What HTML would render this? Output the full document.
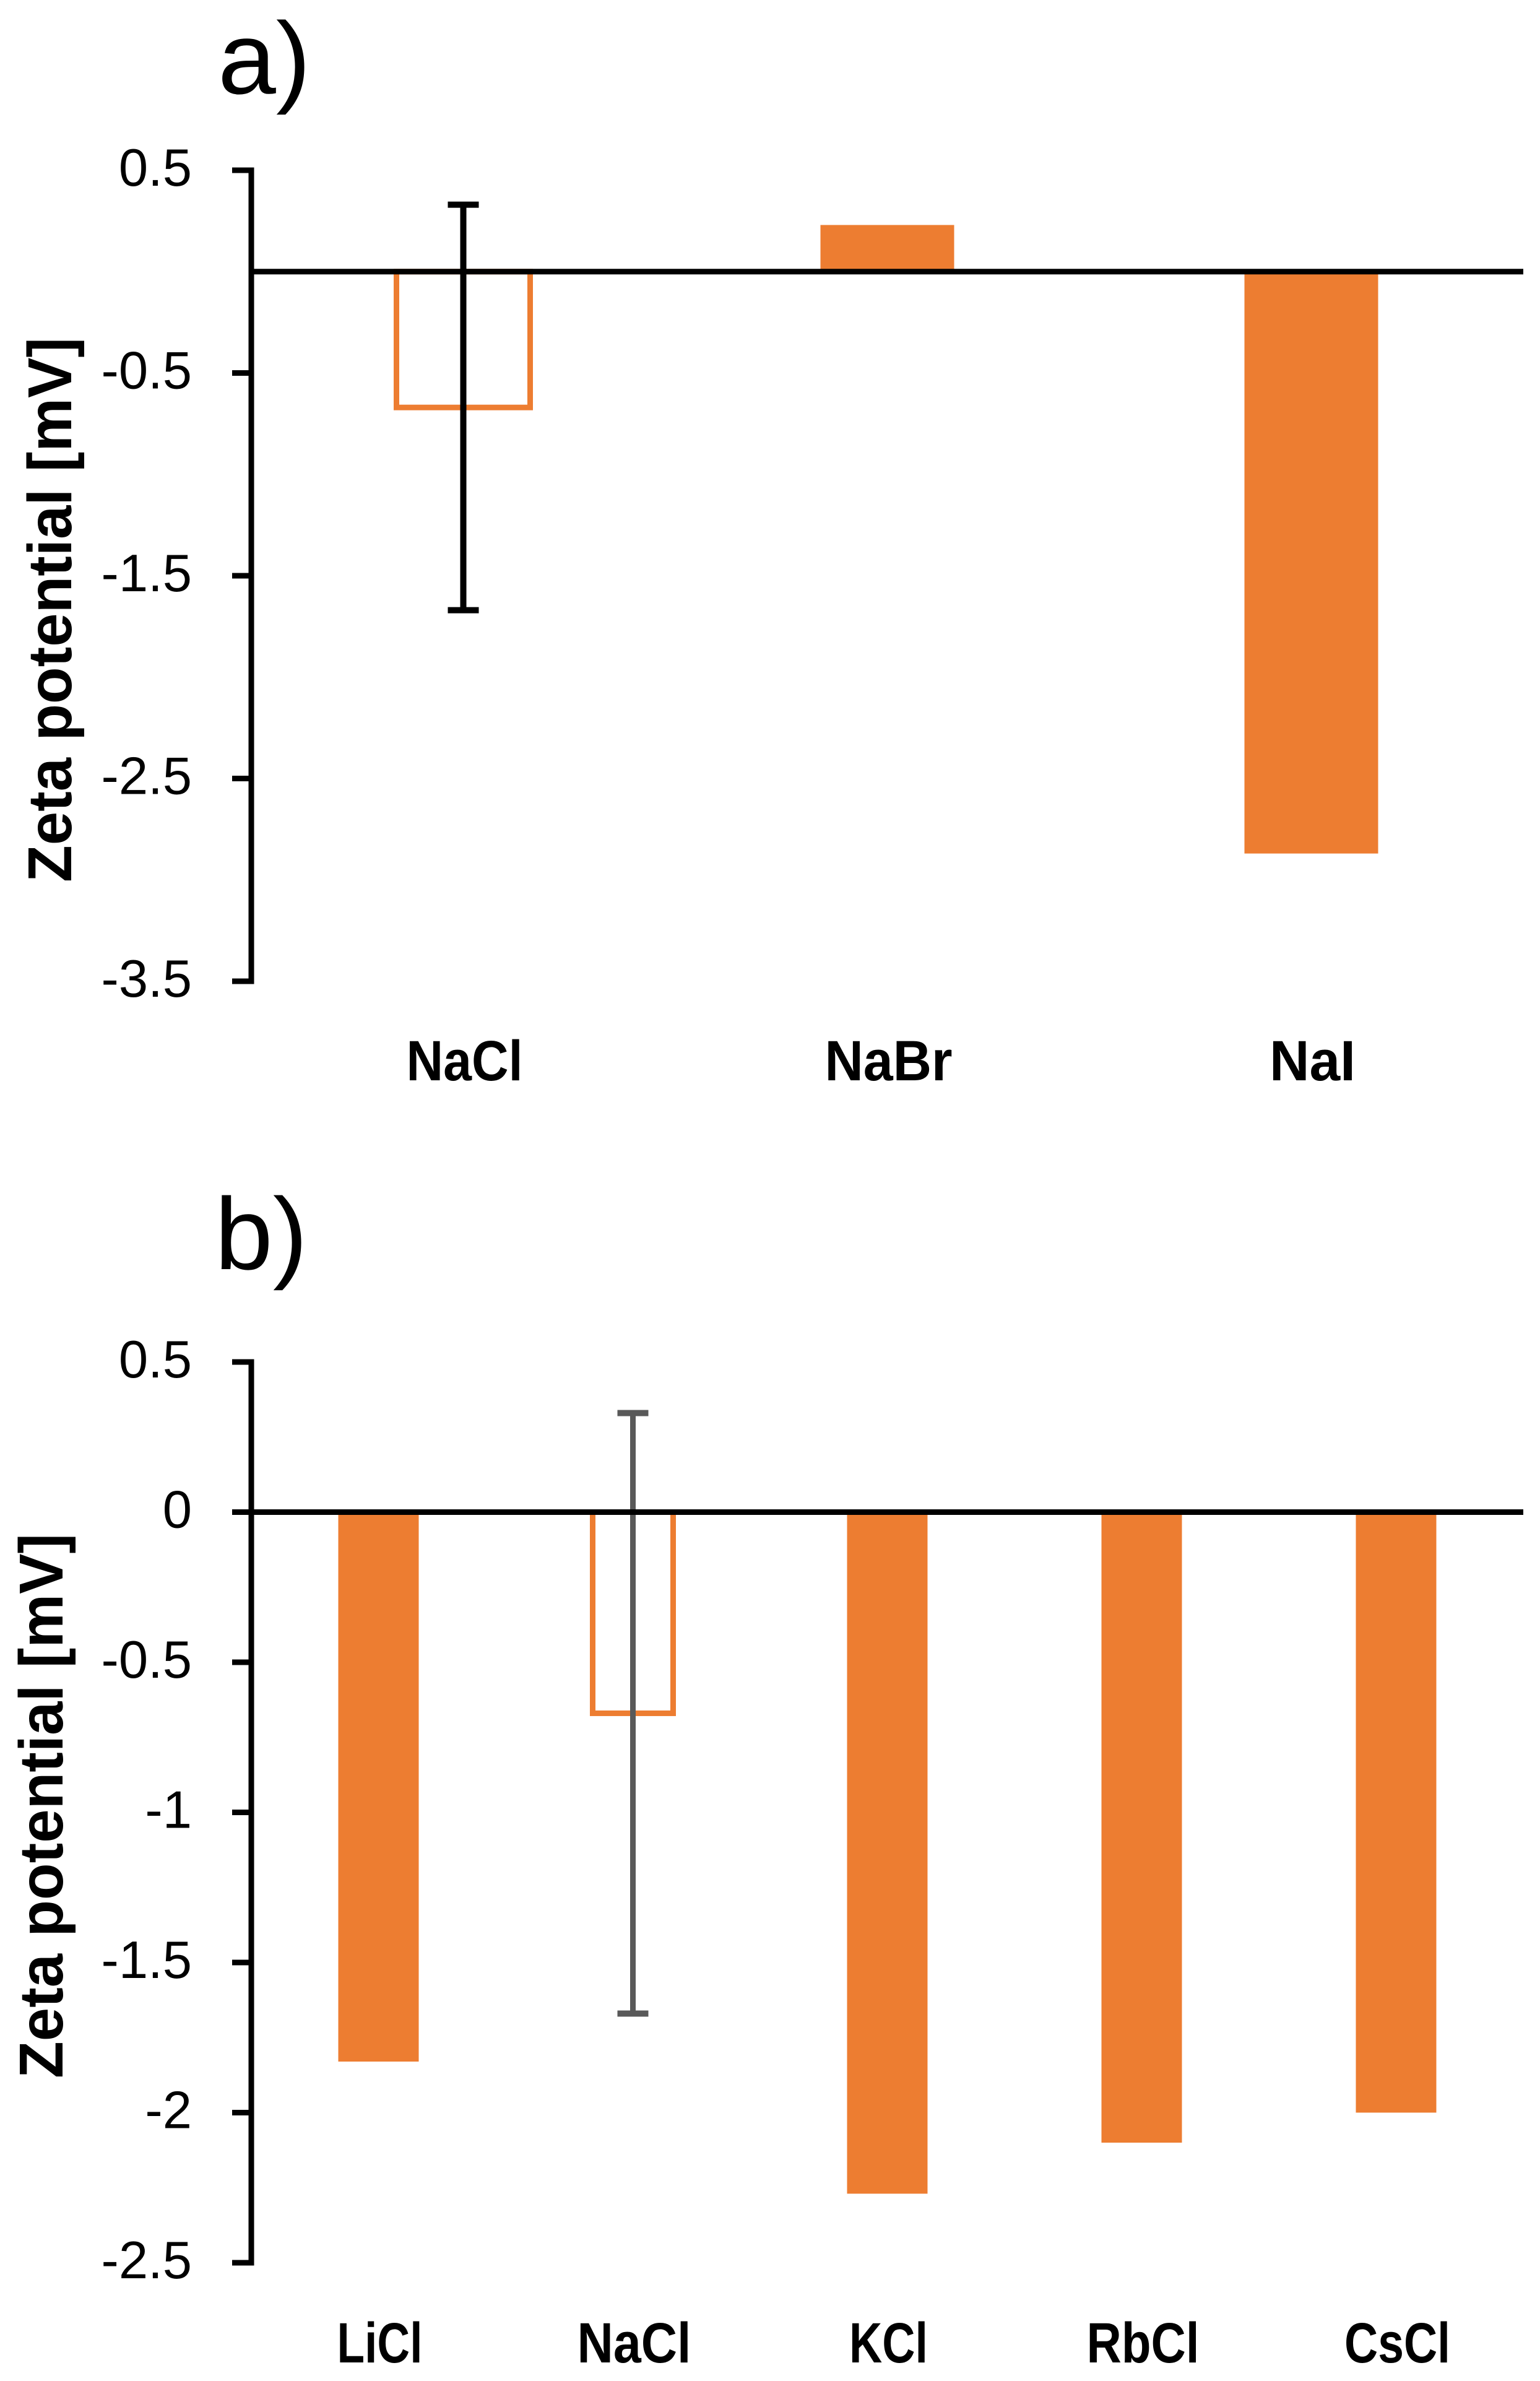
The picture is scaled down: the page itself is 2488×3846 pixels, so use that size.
<!DOCTYPE html>
<html lang="en">
<head>
<meta charset="utf-8">
<title>Zeta potential bar charts</title>
<style>
  html, body { margin: 0; padding: 0; background: #ffffff; }
  svg { display: block; }
  text { font-family: "Liberation Sans", sans-serif; fill: #000000; }
  .tick-label { font-size: 85px; text-anchor: end; }
  .cat-label { font-size: 92px; font-weight: 700; text-anchor: middle; }
  .axis-title { font-size: 100px; font-weight: 700; }
  .panel-label { font-size: 165px; }
</style>
</head>
<body>
<svg id="figure" xmlns="http://www.w3.org/2000/svg" width="2488" height="3846" viewBox="0 0 2488 3846">
  <rect x="0" y="0" width="2488" height="3846" fill="#ffffff"/>
  <g id="panel-a">
    <text class="panel-label" x="352" y="151" textLength="150" lengthAdjust="spacingAndGlyphs">a)</text>
    <text class="axis-title" transform="translate(115,1425) rotate(-90)" textLength="880" lengthAdjust="spacingAndGlyphs">Zeta potential [mV]</text>
  </g>
  <g id="panel-b">
    <text class="panel-label" x="347" y="2050" textLength="150" lengthAdjust="spacingAndGlyphs">b)</text>
    <text class="axis-title" transform="translate(101,3357) rotate(-90)" textLength="880" lengthAdjust="spacingAndGlyphs">Zeta potential [mV]</text>
  </g>
</svg>
<script>
// Panel a data
const categoriesA = ["NaCl", "NaBr", "NaI"];
const valuesA = [-0.67, 0.23, -2.87];
const errorsA = [1.0, null, null];
const tickValuesA = [0.5, -0.5, -1.5, -2.5, -3.5];
const tickLabelsA = ["0.5", "-0.5", "-1.5", "-2.5", "-3.5"];

// Panel b data
const categoriesB = ["LiCl", "NaCl", "KCl", "RbCl", "CsCl"];
const valuesB = [-1.83, -0.67, -2.27, -2.1, -2.0];
const errorsB = [null, 1.0, null, null, null];
const tickValuesB = [0.5, 0, -0.5, -1, -1.5, -2, -2.5];
const tickLabelsB = ["0.5", "0", "-0.5", "-1", "-1.5", "-2", "-2.5"];

const SVG_NS = "http://www.w3.org/2000/svg";
const ORANGE = "#ED7D31";

function mk(tag, parent, attrs) {
  const el = document.createElementNS(SVG_NS, tag);
  for (const k in attrs) el.setAttribute(k, attrs[k]);
  parent.appendChild(el);
  return el;
}

function drawPanel(cfg) {
  const g = document.getElementById(cfg.id);
  const yScale = v => cfg.yTop + (cfg.domainMax - v) * (cfg.yBottom - cfg.yTop) / (cfg.domainMax - cfg.domainMin);
  const step = (cfg.xRight - cfg.xLeft) / cfg.categories.length;
  const xCenter = i => cfg.xLeft + step * (i + 0.5);
  const zeroY = yScale(0);

  // bars
  cfg.values.forEach((v, i) => {
    const top = Math.min(yScale(v), zeroY);
    const h = Math.abs(yScale(v) - zeroY);
    const hollow = cfg.errors[i] !== null;
    const bar = mk("rect", g, {
      x: xCenter(i) - cfg.barWidth / 2,
      y: top,
      width: cfg.barWidth,
      height: h,
      fill: hollow ? "none" : ORANGE,
      stroke: hollow ? ORANGE : "none",
      "stroke-width": hollow ? 9 : 0
    });
    
    
  });

  // error bars
  cfg.errors.forEach((e, i) => {
    if (e === null) return;
    const hi = yScale(cfg.values[i] + e);
    const lo = yScale(cfg.values[i] - e);
    const cx = xCenter(i);
    const eg = mk("g", g, { stroke: cfg.errorColor, fill: "none" });
    
    
    mk("line", eg, { x1: cx, x2: cx, y1: hi, y2: lo, "stroke-width": cfg.errorStroke });
    mk("line", eg, { x1: cx - cfg.capHalf, x2: cx + cfg.capHalf, y1: hi, y2: hi, "stroke-width": 10 });
    mk("line", eg, { x1: cx - cfg.capHalf, x2: cx + cfg.capHalf, y1: lo, y2: lo, "stroke-width": 10 });
  });

  // y axis line
  const axis = mk("line", g, {
    x1: cfg.xLeft, x2: cfg.xLeft,
    y1: cfg.yTop - 4.5, y2: cfg.yBottom + 4.5,
    stroke: "#000", "stroke-width": 9
  });
  
  

  // ticks and tick labels
  cfg.tickValues.forEach((t, i) => {
    const y = yScale(t);
    const tick = mk("line", g, {
      x1: cfg.xLeft - 31, x2: cfg.xLeft,
      y1: y, y2: y,
      stroke: "#000", "stroke-width": 9
    });
    
    
    const label = mk("text", g, { class: "tick-label", x: 310, y: y + 25 });
    label.textContent = cfg.tickLabels[i];
    
    
  });

  // zero baseline
  const base = mk("line", g, {
    x1: cfg.xLeft, x2: cfg.xRight,
    y1: zeroY, y2: zeroY,
    stroke: "#000", "stroke-width": 9
  });
  
  

  // category labels
  cfg.categories.forEach((c, i) => {
    const label = mk("text", g, {
      class: "cat-label",
      x: xCenter(i) + 2,
      y: cfg.catBaseline,
      textLength: cfg.catLabelFit[i],
      lengthAdjust: "spacingAndGlyphs"
    });
    label.textContent = c;
    
    
  });
}

drawPanel({
  id: "panel-a",
  categories: categoriesA, values: valuesA, errors: errorsA,
  tickValues: tickValuesA, tickLabels: tickLabelsA,
  domainMax: 0.5, domainMin: -3.5,
  xLeft: 406, xRight: 2461, yTop: 275, yBottom: 1585,
  barWidth: 216, errorColor: "#000000", errorStroke: 10, capHalf: 25,
  catBaseline: 1745, catLabelFit: [188, 206, 139]
});

drawPanel({
  id: "panel-b",
  categories: categoriesB, values: valuesB, errors: errorsB,
  tickValues: tickValuesB, tickLabels: tickLabelsB,
  domainMax: 0.5, domainMin: -2.5,
  xLeft: 406, xRight: 2461, yTop: 2200, yBottom: 3655,
  barWidth: 130, errorColor: "#595959", errorStroke: 9, capHalf: 25,
  catBaseline: 3816, catLabelFit: [138, 184, 127, 182, 171]
});
</script>
</body>
</html>
